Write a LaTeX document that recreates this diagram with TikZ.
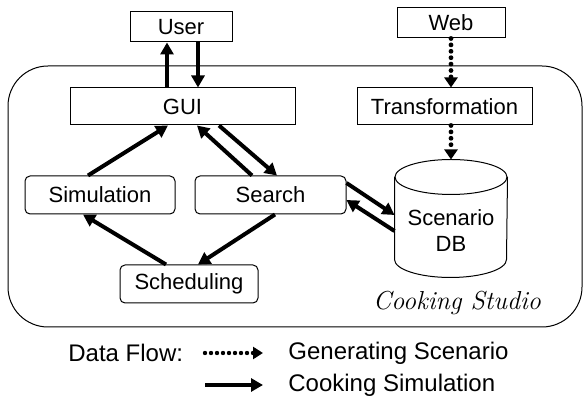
\documentclass[tikz,border=0pt]{standalone}
\usepackage{fontspec}
\setmainfont{Liberation Sans}
\newfontfamily\studiofont{Latin Modern Roman}
\usetikzlibrary{arrows.meta}

\begin{document}
\begin{tikzpicture}[x=0.5pt, y=0.5pt,
	box/.style={draw, line width=0.5pt, inner sep=0pt, font=\fontsize{11}{13}\selectfont},
	rbox/.style={box, rounded corners=2.5pt},
	flow/.style={line width=2pt, -{Triangle[length=6pt, width=6.5pt]}},
	gen/.style={line width=2.4pt, line cap=round, dash pattern=on 0pt off 3.2pt, -{Triangle[length=5pt, width=6.5pt]}},
	legend/.style={font=\fontsize{12}{14}\selectfont, inner sep=0pt}]
	\useasboundingbox (0,0) rectangle (584,401);

	% --- outside sources ---
	\node[box, minimum width=51pt, minimum height=15pt] (user) at (181,374) {User};
	\node[box, minimum width=54pt, minimum height=15pt] (web) at (451,378) {Web};

	% --- studio frame ---
	\draw[line width=0.5pt, rounded corners=20pt] (8,74) rectangle (582,335);
	\node[font=\studiofont\itshape\fontsize{13}{15}\selectfont] (studio) at (457,98) {Cooking Studio};

	% --- modules ---
	\node[box, minimum width=112.5pt, minimum height=18.5pt] (gui) at (182.5,294.5) {GUI};
	\node[box, minimum width=87.5pt, minimum height=18.5pt] (trans) at (444.5,294.5) {Transformation};
	\node[rbox, minimum width=75pt, minimum height=19pt] (sim) at (100,206) {Simulation};
	\node[rbox, minimum width=75.5pt, minimum height=19pt] (search) at (270.5,206) {Search};
	\node[rbox, minimum width=69pt, minimum height=19pt] (sched) at (189,117) {Scheduling};

	% database: text node, cylinder drawn round it
	\node[box, draw=none, align=center, minimum width=56pt, minimum height=71pt] (db) at (451,170) {Scenario\\DB};
	\draw[line width=0.5pt] ([yshift=-8.75pt]db.north) ellipse [x radius=28pt, y radius=8.75pt];
	\draw[line width=0.5pt] ([yshift=-8.75pt]db.north west) -- ([yshift=-50pt]db.north west)
		arc [start angle=180, end angle=360, x radius=28pt, y radius=9pt] -- ([yshift=-8.75pt]db.north east);

	% --- generating scenario (dotted) ---
	\draw[gen] (web.south) -- (web.south |- trans.north);
	\draw[gen] (trans.south -| db.north) -- (db.north);

	% --- cooking simulation (solid) ---
	\draw[flow] ([xshift=-7pt]user.south |- gui.north) -- ([xshift=-7pt]user.south);
	\draw[flow] ([xshift=8.5pt]user.south) -- ([xshift=8.5pt]user.south |- gui.north);
	\draw[flow] ([xshift=-6pt]sim.north) -- ([xshift=-7.25pt]gui.south);
	\draw[flow] ([xshift=-9.25pt]search.north) -- ([xshift=7.25pt]gui.south);
	\draw[flow] ([xshift=18.25pt]gui.south) -- ([xshift=3.25pt]search.north);
	\draw[flow] ([xshift=-11.5pt]sched.north) -- ([xshift=-8.5pt]sim.south);
	\draw[flow] ([xshift=2.25pt]search.south) -- ([xshift=4.5pt]sched.north);
	\draw[flow] ([yshift=6pt]search.east) -- ([yshift=8pt]db.west);
	\draw[flow] (db.west) -- ([yshift=-2.5pt]search.east);

	% --- legend ---
	\node[legend, anchor=west] (flowlbl) at (68,48) {Data Flow:};
	\node[legend, anchor=west] (gentxt) at (288,48) {Generating Scenario};
	\node[legend, anchor=west] (simtxt) at (288,16) {Cooking Simulation};
	\draw[line width=2.2pt, line cap=round, dash pattern=on 0pt off 3pt, -{Triangle[length=5pt, width=6pt]}]
		([xshift=-41.5pt]gentxt.west) -- ([xshift=-12.5pt]gentxt.west);
	\draw[flow] ([xshift=-41.5pt]simtxt.west) -- ([xshift=-12.5pt]simtxt.west);
\end{tikzpicture}
\end{document}
